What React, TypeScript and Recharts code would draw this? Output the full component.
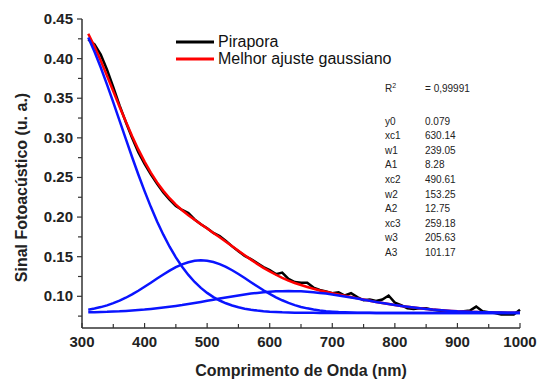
import { CartesianGrid, Legend, Line, LineChart, XAxis, YAxis } from 'recharts';

// comprimento de onda (nm)
const WAVELENGTH = [
  310, 320, 330, 340, 350, 360, 370, 380, 390, 400, 410, 420, 430, 440, 450, 460, 470, 480, 490, 500,
  510, 520, 530, 540, 550, 560, 570, 580, 590, 600, 610, 620, 630, 640, 650, 660, 670, 680, 690, 700,
  710, 720, 730, 740, 750, 760, 770, 780, 790, 800, 810, 820, 830, 840, 850, 860, 870, 880, 890, 900,
  910, 920, 930, 940, 950, 960, 970, 980, 990, 1000,
];

// amostra Pirapora
const PIRAPORA = [
  0.424, 0.418, 0.405, 0.386, 0.364, 0.341, 0.320, 0.300, 0.282, 0.267, 0.254, 0.242, 0.231, 0.222, 0.214, 0.209, 0.205, 0.197, 0.191, 0.186,
  0.180, 0.176, 0.170, 0.163, 0.157, 0.151, 0.147, 0.142, 0.137, 0.133, 0.128, 0.130, 0.122, 0.118, 0.117, 0.117, 0.111, 0.108, 0.106, 0.104,
  0.105, 0.101, 0.104, 0.099, 0.095, 0.096, 0.094, 0.096, 0.101, 0.092, 0.089, 0.085, 0.084, 0.085, 0.085, 0.083, 0.082, 0.081, 0.081, 0.080,
  0.081, 0.082, 0.087, 0.081, 0.080, 0.079, 0.077, 0.077, 0.077, 0.083,
];

// soma das tres gaussianas
const AJUSTE = [
  0.4314, 0.4152, 0.3973, 0.3782, 0.3588, 0.3393, 0.3205, 0.3023, 0.2854, 0.2700, 0.2562, 0.2438, 0.2331, 0.2238, 0.2158, 0.2086, 0.2023, 0.1965, 0.1909, 0.1855,
  0.1800, 0.1745, 0.1689, 0.1631, 0.1575, 0.1518, 0.1463, 0.1409, 0.1359, 0.1314, 0.1272, 0.1233, 0.1199, 0.1168, 0.1142, 0.1118, 0.1095, 0.1074, 0.1057, 0.1039,
  0.1022, 0.1006, 0.0990, 0.0974, 0.0959, 0.0944, 0.0929, 0.0916, 0.0903, 0.0890, 0.0879, 0.0868, 0.0858, 0.0849, 0.0841, 0.0833, 0.0827, 0.0821, 0.0816, 0.0811,
  0.0808, 0.0804, 0.0802, 0.0800, 0.0798, 0.0797, 0.0795, 0.0794, 0.0793, 0.0793,
];

// componentes gaussianas
const GAUSS1 = [
  0.0798, 0.0800, 0.0802, 0.0804, 0.0808, 0.0811, 0.0816, 0.0821, 0.0827, 0.0833, 0.0841, 0.0849, 0.0858, 0.0868, 0.0879, 0.0890, 0.0903, 0.0916, 0.0929, 0.0943,
  0.0957, 0.0971, 0.0985, 0.0998, 0.1011, 0.1023, 0.1034, 0.1043, 0.1051, 0.1058, 0.1063, 0.1065, 0.1066, 0.1065, 0.1063, 0.1058, 0.1051, 0.1043, 0.1034, 0.1023,
  0.1011, 0.0998, 0.0985, 0.0971, 0.0957, 0.0943, 0.0929, 0.0916, 0.0903, 0.0890, 0.0879, 0.0868, 0.0858, 0.0849, 0.0841, 0.0833, 0.0827, 0.0821, 0.0816, 0.0811,
  0.0808, 0.0804, 0.0802, 0.0800, 0.0798, 0.0797, 0.0795, 0.0794, 0.0793, 0.0793,
];

const GAUSS2 = [
  0.0831, 0.0846, 0.0864, 0.0886, 0.0913, 0.0945, 0.0982, 0.1024, 0.1070, 0.1120, 0.1172, 0.1224, 0.1275, 0.1324, 0.1367, 0.1403, 0.1430, 0.1448, 0.1454, 0.1449,
  0.1433, 0.1407, 0.1372, 0.1329, 0.1282, 0.1231, 0.1178, 0.1126, 0.1076, 0.1030, 0.0987, 0.0950, 0.0917, 0.0889, 0.0866, 0.0848, 0.0833, 0.0821, 0.0812, 0.0806,
  0.0801, 0.0798, 0.0795, 0.0793, 0.0792, 0.0791, 0.0790, 0.0790, 0.0790, 0.0790, 0.0790, 0.0790, 0.0790, 0.0790, 0.0790, 0.0790, 0.0790, 0.0790, 0.0790, 0.0790,
  0.0790, 0.0790, 0.0790, 0.0790, 0.0790, 0.0790, 0.0790, 0.0790, 0.0790, 0.0790,
];

const GAUSS3 = [
  0.4265, 0.4086, 0.3887, 0.3672, 0.3447, 0.3217, 0.2987, 0.2758, 0.2537, 0.2327, 0.2129, 0.1945, 0.1778, 0.1626, 0.1492, 0.1373, 0.1270, 0.1181, 0.1106, 0.1043,
  0.0990, 0.0947, 0.0912, 0.0884, 0.0862, 0.0844, 0.0831, 0.0820, 0.0812, 0.0806, 0.0802, 0.0798, 0.0796, 0.0794, 0.0793, 0.0792, 0.0791, 0.0790, 0.0790, 0.0790,
  0.0790, 0.0790, 0.0790, 0.0790, 0.0790, 0.0790, 0.0790, 0.0790, 0.0790, 0.0790, 0.0790, 0.0790, 0.0790, 0.0790, 0.0790, 0.0790, 0.0790, 0.0790, 0.0790, 0.0790,
  0.0790, 0.0790, 0.0790, 0.0790, 0.0790, 0.0790, 0.0790, 0.0790, 0.0790, 0.0790,
];

const X_TICKS = [300, 350, 400, 450, 500, 550, 600, 650, 700, 750, 800, 850, 900, 950, 1000];
const Y_TICKS = [0.075, 0.1, 0.125, 0.15, 0.175, 0.2, 0.225, 0.25, 0.275, 0.3, 0.325, 0.35, 0.375, 0.4, 0.425, 0.45];

// legenda: so a amostra e o ajuste
const LEGEND_NAMES = ['Pirapora', 'Melhor ajuste gaussiano'];

// parametros do ajuste
const R2 = '0,99991';
const PARAM_NAMES = ['y0', 'xc1', 'w1', 'A1', 'xc2', 'w2', 'A2', 'xc3', 'w3', 'A3'];
const PARAM_VALUES = ['0.079', '630.14', '239.05', '8.28', '490.61', '153.25', '12.75', '259.18', '205.63', '101.17'];

const FONT = 'Liberation Sans, Arial, Helvetica, sans-serif';
const AXIS = '#333';

const data = WAVELENGTH.map((x, i) => ({
  x,
  pirapora: PIRAPORA[i],
  ajuste: AJUSTE[i],
  g1: GAUSS1[i],
  g2: GAUSS2[i],
  g3: GAUSS3[i],
}));

function XTick({ x, y, payload }: any) {
  const major = payload.value % 100 === 0;
  return (
    <g>
      <line x1={x} x2={x} y1={y} y2={y - (major ? 5 : 4)} stroke={AXIS} strokeWidth={1.2} />
      {major && (
        <text x={x} y={y + 19} textAnchor="middle" fontFamily={FONT} fontWeight="bold" fontSize={15} fill="#222">
          {payload.value}
        </text>
      )}
    </g>
  );
}

function YTick({ x, y, payload }: any) {
  const major = Math.round(payload.value * 1000) % 50 === 0;
  return (
    <g>
      <line x1={x} x2={x - (major ? 5 : 4)} y1={y} y2={y} stroke={AXIS} strokeWidth={1.2} />
      {major && (
        <text x={x - 9} y={y + 5} textAnchor="end" fontFamily={FONT} fontWeight="bold" fontSize={15} fill="#222">
          {payload.value.toFixed(2)}
        </text>
      )}
    </g>
  );
}

function XTitle({ viewBox }: any) {
  return (
    <text x={viewBox.x + viewBox.width / 2} y={376} textAnchor="middle" fontFamily={FONT} fontWeight="bold" fontSize={16} fill="#222">
      Comprimento de Onda (nm)
    </text>
  );
}

function YTitle({ viewBox }: any) {
  // titulo um pouco abaixo do centro do eixo
  const cy = viewBox.y + viewBox.height / 2 + 14;
  return (
    <text x={27} y={cy} transform={`rotate(-90 27 ${cy})`} textAnchor="middle" fontFamily={FONT} fontWeight="bold" fontSize={16} fill="#222">
      Sinal Fotoacústico (u. a.)
    </text>
  );
}

function LegendBox({ payload }: any) {
  const entries = LEGEND_NAMES.map((name) => (payload || []).find((e: any) => e.value === name)).filter(Boolean);
  return (
    <div style={{ fontFamily: FONT, fontSize: 16, color: '#111' }}>
      {entries.map((entry: any) => (
        <div key={entry.value} style={{ display: 'flex', alignItems: 'center', height: 17.6 }}>
          <svg width={38} height={4} style={{ marginRight: 4 }}>
            <line x1={0} x2={38} y1={2} y2={2} stroke={entry.color} strokeWidth={3} />
          </svg>
          <span>{entry.value}</span>
        </div>
      ))}
    </div>
  );
}

export default function App() {
  return (
    <div style={{ position: 'absolute', left: 0, top: 0, width: 547, height: 381, background: '#fff' }}>
      <LineChart width={547} height={381} data={data} margin={{ top: 19, right: 27, bottom: 0, left: 22 }}>
        <CartesianGrid stroke="none" />
        <XAxis
          dataKey="x"
          type="number"
          domain={[300, 1000]}
          ticks={X_TICKS}
          interval={0}
          height={53}
          tickSize={0}
          tickMargin={0}
          tickLine={false}
          tick={<XTick />}
          stroke={AXIS}
          strokeWidth={1.5}
          label={XTitle}
        />
        <YAxis
          type="number"
          domain={[0.06, 0.45]}
          ticks={Y_TICKS}
          interval={0}
          width={60}
          tickSize={0}
          tickMargin={0}
          tickLine={false}
          tick={<YTick />}
          stroke={AXIS}
          strokeWidth={1.5}
          allowDataOverflow
          label={YTitle}
        />
        <Legend
          layout="horizontal"
          verticalAlign="middle"
          align="center"
          content={<LegendBox />}
          wrapperStyle={{ left: 176, top: 33, width: 'auto' }}
        />
        <Line name="Pirapora" type="linear" dataKey="pirapora" stroke="#000" strokeWidth={2.5} dot={false} isAnimationActive={false} />
        <Line name="Melhor ajuste gaussiano" type="linear" dataKey="ajuste" stroke="#ff0000" strokeWidth={2.5} dot={false} isAnimationActive={false} />
        <Line legendType="none" type="linear" dataKey="g1" stroke="#0a14ff" strokeWidth={2.5} dot={false} isAnimationActive={false} />
        <Line legendType="none" type="linear" dataKey="g2" stroke="#0a14ff" strokeWidth={2.5} dot={false} isAnimationActive={false} />
        <Line legendType="none" type="linear" dataKey="g3" stroke="#0a14ff" strokeWidth={2.5} dot={false} isAnimationActive={false} />
      </LineChart>
      <div style={{ position: 'absolute', left: 385, top: 82, fontFamily: FONT, fontSize: 10, color: '#222', lineHeight: '14.6px' }}>
        <div style={{ display: 'flex' }}>
          <span style={{ width: 40 }}>
            R<sup style={{ fontSize: 7, verticalAlign: 'top', lineHeight: '8px' }}>2</sup>
          </span>
          <span>= {R2}</span>
        </div>
        <div style={{ marginTop: 18 }}>
          {PARAM_NAMES.map((name, i) => (
            <div key={name} style={{ display: 'flex' }}>
              <span style={{ width: 40 }}>{name}</span>
              <span>{PARAM_VALUES[i]}</span>
            </div>
          ))}
        </div>
      </div>
    </div>
  );
}
